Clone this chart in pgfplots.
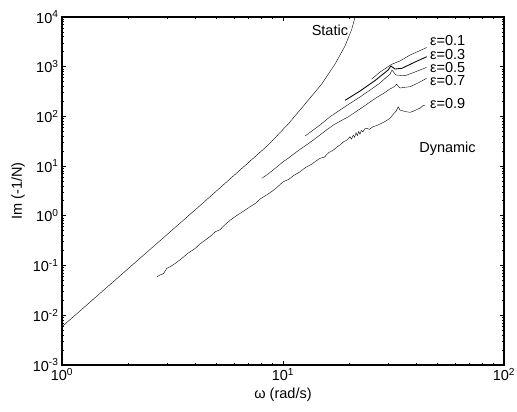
\documentclass[border=0pt]{standalone}
\usepackage{fontspec}
\setmainfont{Liberation Sans}
\usepackage{pgfplots}
\pgfplotsset{compat=1.18}
\begin{document}
\begin{tikzpicture}[font=\fontsize{14.5}{16}\selectfont]
\useasboundingbox (-62pt,-47pt) rectangle (455pt,365pt);
\begin{loglogaxis}[
  at={(0,0)}, anchor=south west,
  scale only axis, width=442pt, height=348pt,
  xmin=1, xmax=100, ymin=1e-3, ymax=1e4,
  xtick={1,10,100},
  xticklabels={10\textsuperscript{0},10\textsuperscript{1},10\textsuperscript{2}},
  ytick={1e-3,1e-2,1e-1,1,10,100,1000,10000},
  yticklabels={10\textsuperscript{-3},10\textsuperscript{-2},10\textsuperscript{-1},10\textsuperscript{0},10\textsuperscript{1},10\textsuperscript{2},10\textsuperscript{3},10\textsuperscript{4}},
  tick align=inside, major tick length=4pt, minor tick length=2.5pt,
  every tick/.style={black, line width=0.8pt},
  axis line style={line width=1.5pt},
  xlabel={ω (rad/s)}, ylabel={Im (-1/N)},
  xlabel style={at={(axis description cs:0.5,-0.0862)}, anchor=center},
  ylabel style={at={(axis description cs:-0.0995,0.5)}, anchor=center},
  cycle list={{black, solid, line width=0.85pt, mark=none}},
  clip=false,
]
% Static
\addplot coordinates {(1,0.00589) (1.585,0.0355) (2.512,0.214) (3.981,1.288) (6.310,7.94) (8.570,26.6) (10.57,70.8) (12.59,178) (14.96,447) (17.18,1122) (19.10,2630) (20.46,5623) (21.18,10000)};
% eps = 0.1
\addplot coordinates {(25.2,566) (27.5,782) (31.0,1117) (33.8,1303) (37.6,1718) (44.7,2432)};
% eps = 0.3
\addplot coordinates {(19.1,211) (22.3,324) (26.1,528) (29.9,859) (30.8,1033) (32.1,899) (34.5,929) (39.6,1245) (44.7,1589)};
% eps = 0.5
\addplot coordinates {(12.59,40.4) (13.60,52.0) (14.69,67.1) (16.33,98.6) (18.11,134.6) (20.00,180) (22.28,245.5) (24.80,340) (27.48,469.9) (29.20,600) (30.48,703) (31.12,859) (32.43,681) (35.65,659) (39.54,782) (44.67,972)};
% eps = 0.7
\addplot coordinates {(8.02,5.69) (8.50,6.80) (9.00,8.30) (9.50,10.10) (10.02,12.27) (10.60,14.60) (11.20,17.70) (11.90,21.50) (12.60,25.60) (13.65,33.0) (14.69,42.3) (15.80,54.0) (16.90,67.1) (18.30,82.0) (19.77,98.6) (21.00,118) (22.50,145) (24.77,195) (26.50,240) (28.50,290) (30.48,356) (31.80,395) (32.66,443) (33.81,373) (35.50,385) (37.58,396) (40.83,470) (44.67,585)};
% eps = 0.9
\addplot coordinates {(2.68,0.0587) (2.78,0.0650) (2.88,0.0690) (2.98,0.0879) (3.10,0.0960) (3.25,0.1100) (3.49,0.1396) (3.70,0.1750) (4.01,0.2218) (4.20,0.2700) (4.45,0.3258) (4.70,0.3900) (4.94,0.4786) (5.20,0.5300) (5.45,0.6600) (5.78,0.8222) (6.10,0.9800) (6.45,1.1500) (7.10,1.5240) (7.50,1.7800) (7.90,2.2000) (8.43,2.624) (8.90,3.100) (9.30,3.600) (10.02,4.853) (10.60,5.400) (11.20,6.500) (11.94,7.709) (12.60,9.300) (13.40,10.80) (14.69,14.35) (15.40,15.20) (16.10,18.70) (16.90,21.09) (17.60,24.50) (18.20,27.00) (18.80,31.00) (19.40,33.00) (20.09,39.08) (20.40,35.00) (20.80,42.00) (21.10,38.00) (21.40,47.00) (21.70,41.00) (22.00,50.00) (22.30,44.00) (22.60,52.00) (23.00,49.00) (23.40,56.00) (23.93,57.68) (24.60,55.00) (25.50,62.00) (26.40,65.00) (27.48,70.31) (28.50,76.00) (29.60,84.00) (30.48,91.62) (31.50,110.0) (32.50,128.0) (33.27,156.7) (33.81,134.6) (35.50,126.0) (37.58,120.8) (39.00,128.0) (40.83,140.9) (42.00,150.0) (43.00,165.0) (43.95,169.4)};
\node at (axis cs:16.3,5300) {Static};
\node[anchor=west, inner sep=0pt] at (axis cs:46.2,3443) {ε=0.1};
\node[anchor=west, inner sep=0pt] at (axis cs:46.2,1778) {ε=0.3};
\node[anchor=west, inner sep=0pt] at (axis cs:46.2,955) {ε=0.5};
\node[anchor=west, inner sep=0pt] at (axis cs:46.2,540) {ε=0.7};
\node[anchor=west, inner sep=0pt] at (axis cs:46.2,183.7) {ε=0.9};
\node at (axis cs:55.5,22.1) {Dynamic};
\end{loglogaxis}
\end{tikzpicture}
\end{document}
